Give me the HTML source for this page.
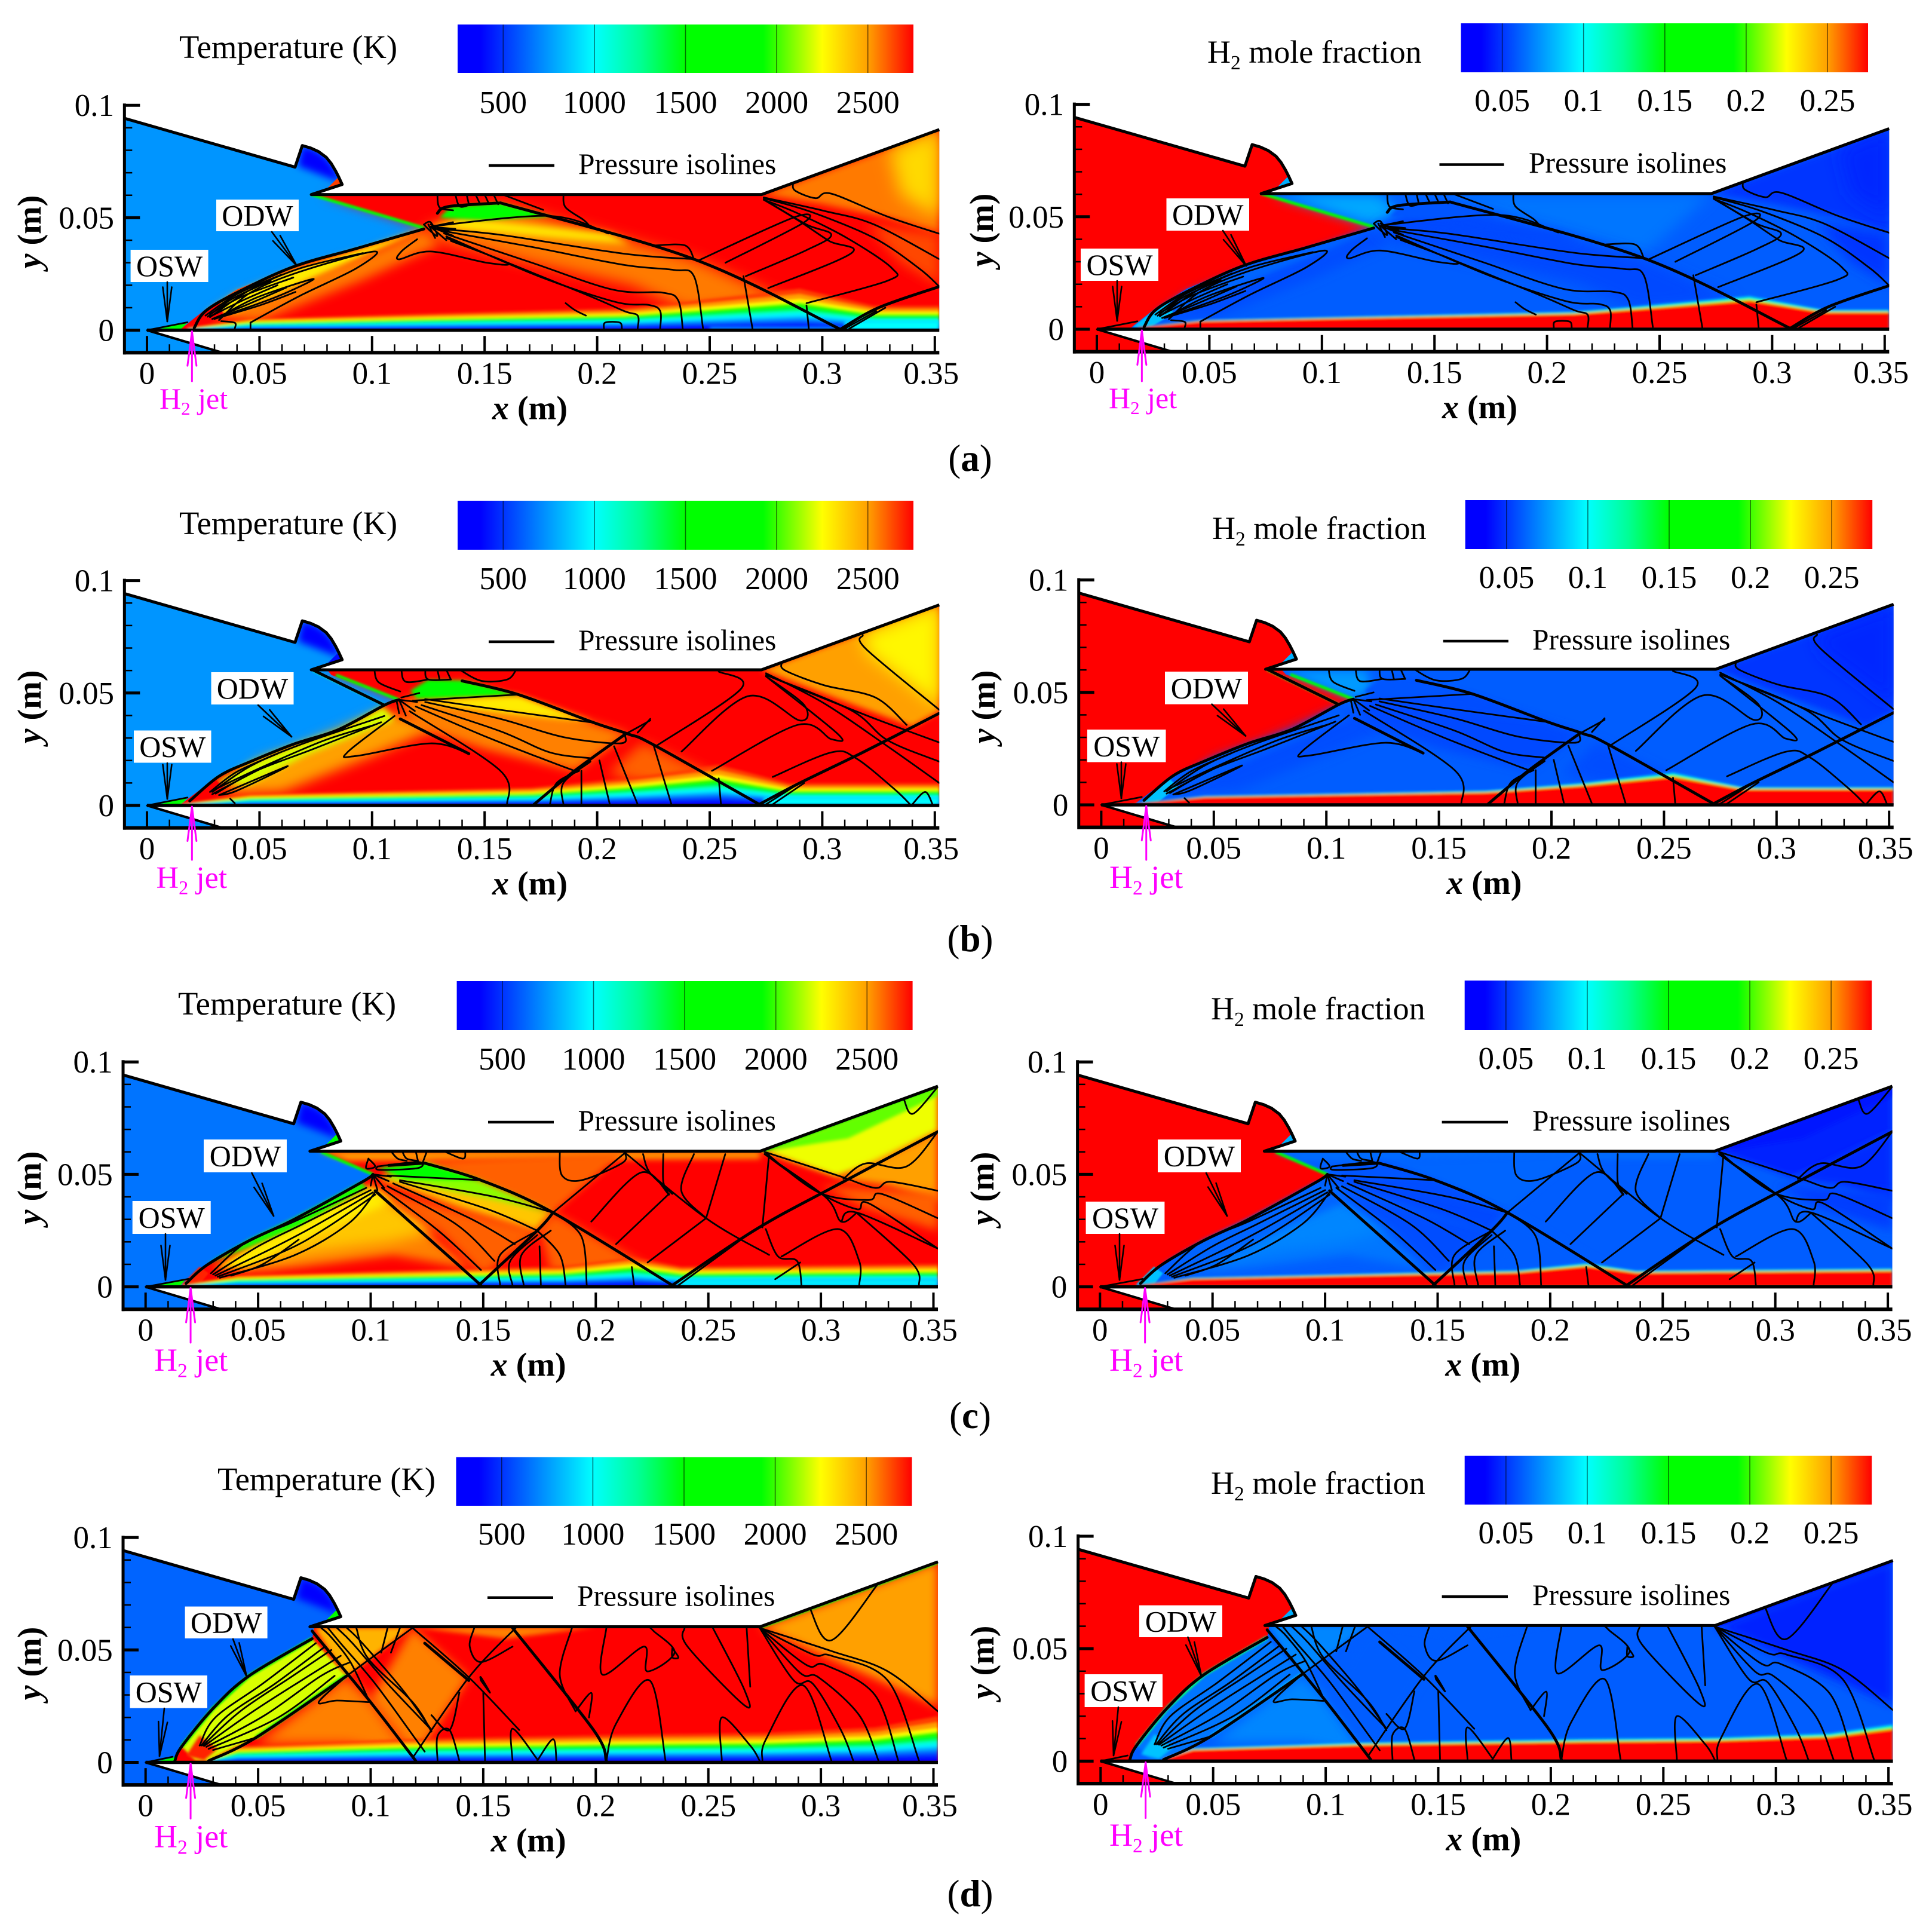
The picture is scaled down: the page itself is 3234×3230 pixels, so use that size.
<!DOCTYPE html>
<html lang="en">
<head>
<meta charset="utf-8">
<title>Temperature and H2 mole fraction contours</title>
<style>
html,body{margin:0;padding:0;background:#fff}
svg{display:block}
text{font-family:"Liberation Serif",serif;fill:#000}
</style>
</head>
<body>
<svg id="figure" xmlns="http://www.w3.org/2000/svg" width="3234" height="3230" viewBox="0 0 3234 3230"><defs id="defs"></defs></svg>
<script>
/* ---------- chart values (geometry in millimetres, flat x,y pairs) ---------- */
const xMajorTicks=[0,0.05,0.1,0.15,0.2,0.25,0.3,0.35];
const xMajorLabels=['0','0.05','0.1','0.15','0.2','0.25','0.3','0.35'];
const xMinorTicks=[0.01,0.02,0.03,0.04,0.06,0.07,0.08,0.09,0.11,0.12,0.13,0.14,0.16,0.17,0.18,0.19,0.21,0.22,0.23,0.24,0.26,0.27,0.28,0.29,0.31,0.32,0.33,0.34];
const yMajorTicks=[0,0.05,0.1];
const yMajorLabels=['0','0.05','0.1'];
const yMinorTicks=[0.01,0.02,0.03,0.04,0.06,0.07,0.08,0.09];
const tempBarTicks=[500,1000,1500,2000,2500];
const tempBarLabels=['500','1000','1500','2000','2500'];
const h2BarTicks=[0.05,0.1,0.15,0.2,0.25];
const h2BarLabels=['0.05','0.1','0.15','0.2','0.25'];
const tempRange=[250,2750];
const h2Range=[0.0246,0.275];
const mapFracs=[0,0.05,0.3,0.4,0.5,0.67,0.8,0.9,1];
const mapColors=[[0,0,255],[0,0,255],[0,255,255],[0,255,150],[0,255,0],[0,255,0],[255,255,0],[255,160,0],[255,0,0]];

const domainOutline=[-10,94.2,65.8,72.5,69,82.1,72.7,81,76.2,79.4,79.6,76.9,81.8,74.2,83.8,70.8,85.2,68.1,86.7,64.8,73,60.3,273,60.3,352,89.2,352,0,0,0,33.5,-10,-10,-10];
const cowlDark=[69,82.1,67,73,80,68,85.2,66,85.2,68.1,83.8,70.8,81.8,74.2,79.6,76.9,76.2,79.4,72.7,81];
const cowlTip=[80,63,86.7,64.8,85.5,68.5];
const cowlTipT=[2650,400,1600,1700];
const oswWedge=[3,0,18,3.5,15,0];

const blFracsT=[1.5,1.3,1.12,1,0.9,0.8,0.7,0.6,0.5,0.4,0.3,0.2,0.1];
const blTemps=[2650,2500,2250,2000,1700,1350,1100,950,800,650,520,400,300];
const blFracsH=[1.22,1.16,1.12,1.08,1.05,1.02];
const blH2=[0.07,0.1,0.14,0.2,0.245,0.28];

/* case (a) */
const aBurned=[15,0,15,0.5,27,10,40,18,65,28.5,93,36.5,123,45.5,73,60.3,273,60.3,352,89.2,352,0];
const aRegions=[
{p:[78,60.3,125,60.3,135,52,123,46],t:2750,h:0.078,s:10},
{p:[125,60.3,273,60.3,243,33,160,56],t:2750,h:0.066,s:12},
{p:[27,6,40,15,65,25,100,35,123,45,130,38,95,22,50,4],t:2560,h:0.056,s:9},
{p:[26,8,40,17,65,27,93,35.5,123,45,105,37,70,22,40,8],t:2300,h:0.062,s:4},
{p:[16,1,26,9,32,13,34,7,24,1],t:2750,h:0.085,s:1},
{p:[123,45,157,56,243,31.6,285,13,240,9,215,20,170,30,130,40],t:2560,h:0.055,s:12},
{p:[125,46,140,50,205,43,215,38,170,42],t:2300,h:0.055,s:6},
{p:[130,50,135,55,157,56.5,180,50.5,150,49],t:1650,h:0.058,s:3},
{p:[273,60.3,352,89.2,352,43,329,50,300,56],t:2560,h:0.05,s:6},
{p:[330,80,352,89.2,352,50,335,60],t:2350,h:0.047,s:15},
{p:[320,47,352,43,352,20,335,30],t:2640,h:0.05,s:10},
{l:[73,60.3,123,45.5],t:1500,h:0.15,w:5}
];
const aWall=[{p:[310,0,352,0,352,4,310,4],t:1000},{p:[250,0,310,0,308,1.5,250,1.5],t:760}];
const aBlX=[18,46,129,212,240,290,323,352];
const aBlY=[0.7,3.4,5,6.5,8.5,12.3,7.2,7.2];
const aShocks=[
[157,56.6,243,31.6,308,0.4],
[308,0.4,325,10,352,19.4],
[21,1,26,8.5,40,16.7,65,28.2,93,36.3,123,45],
[129,52,134,55,157,56.6]
];
const aIso=[
[0,0,18,3.5],
[129,46.5,179,50.8,205,43],
[129,45,157,42.4,212,34,243,31.6],
[130,44.4,171,37,212,29,234,26.8,243,24,247,1],
[132,43,171,30,207,18,229,16.7,236,13.3,238,0.7],
[133,41.7,174,24,208,12.6,223,11.2,228,8.5,228,0.7],
[133,41,193,16.7,212,8.5,218,6.5,218,0.7],
[120,40.4,113,35,112,31.5,126,35,151,30,160,30,135,39.7],
[123,47,126,44,129,42,126,48,123,47],
[126,46,136,48],[126,46,137,45],[126,46,136,42],[126,46,133,40],[125,47,128,41],[126,47,134,44],
[186,12,190,9,195,6.5,190,9,186,12],
[265,24,269,0.7],
[293,11,294,0.7],
[129,60.3,130,54.6,136,53.3],
[137,60.3,139,55,144,56],
[142,60.3,143,56],[146,60.3,148,56],[150,60.3,152,56],[154,60.3,156,56],
[158,60.3,176,53.5],
[185,60.3,186,54.6,194,49,197,45.8],
[226,37.7,239,37.7,243,31.6],
[287,65.4,288,62,297,58.7,304,60.7,329,50.5,352,42.9],
[274,59,301,53,323,47,352,31.6],
[274,58.7,295,52.6,323,41,343,27.5,352,19.4],
[274,58,289,52,311,41,331,27.5,329,22,293,12],
[274,58,289,49,303,39.7,313,34.3,276,18.7],
[276,57,293,47,304,42.4,293,35.6,266,24],
[245,31,287,50,292,48,257,30],
[32,4.5,46,16.7,68,26,101,35,93,27.5,68,15.3,46,3.4],
[28,5.8,46,18,68,27.5,96,34.3],
[32,5.8,49,14.6,74,22.8,57,14.6,32,5.8],
[26,6.5,40,16,60,24.8],
[28,7.2,43,15.3,65,23.4],
[27,6,38,14,55,22],[28,6,42,13,58,20],[29,5,46,12,62,19],[30,5,50,11,66,17],
[203,0.7,203.6,3.4,210,3.4,211,0.7],
[33,4,39,3.3,39,0.7],
[46,0.7,46,3.4],
[310,0.7,324,8.5],
[312,0.7,328,10]
];

/* case (b) */
const bBurned=[15,0,15,0.5,32,13.4,46,20,65,27.6,85,34,105.5,44.6,112,47.3,82,58,80,60.3,273,60.3,352,89.2,352,0];
const bRegions=[
{p:[80,60,118,60,120,50,112,47],t:2750,h:0.075,s:8},
{p:[32,5,50,20,70,27,105,42,130,35,100,22,60,6],t:2500,h:0.056,s:10},
{p:[30,10,46,19,65,26.5,85,33,105,44,110,38,70,22,45,9],t:2200,h:0.06,s:5},
{p:[18,1,30,12,34,8,25,1],t:2750,h:0.085,s:1},
{p:[112,46,140,55,214,31.7,190,15.4,150,25,120,35],t:2550,h:0.055,s:8},
{p:[120,46,165,49,198,37,160,41],t:2300,h:0.056,s:5},
{p:[117,51,125,56,140,55.5,165,49.3,120,47.5],t:1600,h:0.058,s:3},
{p:[220,28,270,5,225,9,205,14],t:2600,h:0.056,s:10},
{p:[273,60.3,352,89.2,352,42,340,35,300,50],t:2500,h:0.05,s:5},
{p:[318,76,352,89.2,352,44,335,57,320,68],t:2270,h:0.047,s:14},
{l:[84,58,112,47],t:1500,h:0.15,w:5},
{l:[73.6,60,105.5,44.6],t:1200,h:0.2,w:3}
];
const bWall=[{p:[274,0,352,0,352,3.5,274,3.5],t:1000}];
const bBlX=[15,46,129,171,212,254,285,352];
const bBlY=[0.5,3.3,4.6,5.3,8,12,6.6,6.6];
const bShocks=[
[140,55.4,165,49.3,198,37,214,31.7,225,27,272,0.5],
[172,0.5,190,15.4,212.5,31.7],
[272,0.5,290,10,318,23.6,352,41],
[112.5,38.5,143,23],
[19,2,32,13,46,19.5,65,27.2,85,33.7,105.5,44.6,112,47],
[73.6,60.3,105.5,44.6]
];
const bIso=[
[0,0,18,3.5],
[212.5,31.7,223.6,37.8],
[118,46.6,165,49.3],
[123.6,47.3,157,42.5,197,37],
[123.6,46,157,38.5,185,30.4,210,27.6,212.5,31],
[122,44.6,157,33,179,23.6,197,21],
[119.4,44,151,30.4,179,19.5,190,15.4],
[116.7,41.9,157,15.4,160,0.5],
[110,39.8,89,23.6,93,22,126,27.6,143,23],
[112,47,120,46],[112,47,119,42],[112,47,115,40],[113,48,121,50],[111,46,112,41],
[179,0.5,182,10,192,15.4],
[185,0.5,185,10,197,19.5],
[193,0.5,193,15.4],
[201,20,205.6,0.5],
[207.5,26.3,218,0.5],
[225,27,233,0.5],
[254,12,255,0.5],
[101,60.3,103,54.7,112.5,50.7],
[113,60.3,115,55,125,56],
[123.6,60.3,125,56,135,56],
[129,60.3,130,56],[133,60.3,135,56],
[139,60.3,148.6,55.4,160,56,164,60.3],
[226,26.3,264,52,254,59.5],
[237.5,24,267,48.6,290,37.8,292,44.6,275,57.4],
[251,15.4,289,35.8,304,29.5,307,31.7,275,57.4],
[218,32.4,223.6,38.5],
[275,58.8,301,45.3,329,26.3,352,10],
[275,58,312.5,42.5,329,29,352,19.5],
[275,58,293,50.7,323.6,38.5,352,28],
[318,75.7,319.4,69.6,352,42.5],
[282,63.5,283.6,60,301,53.4,323.6,48,337.5,35.8],
[278,12.7,304,23.6,315,21,332,7.3,339,0.5],
[340,0.5,345.7,6,349,0.5],
[275,0.5,290,10],[278,0.5,292,10],
[29,6,46,17.5,68,27,105.5,39.8],
[30.5,5.3,48.6,15.4,73.6,25,104,37],
[32,4.6,62.5,17.5,40,6.6,32,4.6],
[30.5,7.3,51,17,79,29,101,35.8],
[28,6,40,15,58,23],[29,5,44,13,60,21],
[37,3,39,1]
];

/* case (c) */
const cBurned=[16,0,16,0.7,27,10,46,21,66,30.5,96,46.7,101,50,77,60.3,273,60.3,352,89.2,352,0];
const cRegions=[
{p:[77,60.3,273,60.3,273,57,90,56],t:2500,h:0.064,s:5},
{p:[125,56,213,60,181,33],t:2600,h:0.062,s:6},
{p:[40,7,102,42,145,8,110,14,70,9],t:2550,h:0.066,s:8},
{p:[46,8,102,43,130,25,110,20,70,15],t:2400,h:0.07,s:12},
{p:[30,8,46,18,66,28,100,45,110,38,80,25,45,8],t:2300,h:0.062,s:6},
{p:[27,10,46,21,66,30.5,96,46.7,98,44,68,27,42,16],t:1950,h:0.062,s:3},
{p:[16,1,24,9,28,6,24,1],t:2700,h:0.085,s:1},
{p:[103,43,175,25,150,5,130,25],t:2600,h:0.056,s:8},
{p:[103,48,124,55,181,33,174,25,140,35],t:2400,h:0.055,s:6},
{p:[105,49,124,55,149,47,181,33,150,40],t:2100,h:0.056,s:5},
{p:[103,53,124,55,149,47.4,115,48],t:1600,h:0.058,s:3},
{p:[175,26,181,33,234,3,180,7],t:2600,h:0.06,s:8},
{p:[274,60.3,352,89.2,352,69,325,55,307,49],t:2230,h:0.045,s:5},
{p:[276,60.3,352,89.2,352,85,312,66],t:2050,h:0.042,s:3},
{p:[307,48,352,69,352,38,330,45],t:2500,h:0.048,s:6},
{p:[300,45,352,42,352,25,320,35],t:2600,h:0.052,s:8},
{l:[274,60.3,352,89.2],t:1700,h:0.04,w:5},
{l:[78,60,101,50],t:1500,h:0.15,w:5}
];
const cWall=[{p:[236,0,352,0,352,3.5,236,3.5],t:950}];
const cBlX=[16,41,146,185,216,238,352];
const cBlY=[0.5,3.4,5.4,6.1,8.8,6,6.8];
const cShocks=[
[124,55,149,47.4,181,33,234,0.7],
[102,42.7,149,0.7],
[148,0.7,174,25,181,33],
[234,0.7,271.4,25.7,307.5,45.4,352,69],
[18,1.5,27,9.5,46,20.5,66,30,96,46.5,101,50],
[108,54,124,55]
];
const cIso=[
[0,0,19,3.5],
[181,33,213,59.6],
[213,59.6,249,30.5,277,14.2],
[107.5,49.5,149,47.4],
[113,47.4,155,40,181,33],
[113,46.7,152,34.5,174,25],
[110,46,144,30.5,164,19],
[107.5,44.7,138,27.8,155,11.5],
[105,44,130,25,149,7.5],
[103,53.5,121,55.5,121,52.8,104,52,103,53.5],
[99,57,102,53.5,98,52.7,99,57],
[101,50,108,47],[101,50,106,44],[101,50,103,43],[101,50,100,45],[101,50,109,49],
[109,60.3,112,57,116,56],
[114,60.3,116,57,121,56],
[120,60.3,121,56],
[125,60.3,123,55],
[132.5,60.3,141,57,142,60.3],
[184,60.3,185,49.5,193.6,47.4,211.7,55,213,59.6],
[221,59,224,50.8,234,41.3],
[230,59,230,46.7,232.5,41],
[243.6,59,238,42.7,249,30.5],
[257.5,59,249,30.5],
[277,59,274,26.4],
[198,29,220,50.8,232.5,41],
[209,19,232.5,41.3],
[223,10.8,249,30.5],
[157.5,0.7,157.5,14.2,174,25],
[163,0.7,162,11.5,174,23],
[168,0.7,167,14.2,180,25],
[175.6,0.7,175,18],
[186.6,0.7,184,14.2,174,25],
[196,0.7,193.6,22.4,181,33],
[217,0.7,216,8.8],
[236.7,0.7,271,25.7],
[279.7,3.4,290.8,10.8],
[275.5,25.7,281,13.5,289.4,11.5,291.4,0.7],
[282.5,13.5,307.5,25.7,317,11.5,317,0.7],
[315.8,33,341,10,343.6,0.7],
[309,29,316,33,352,17],
[310,48,320,54.9,338,53.5,352,69],
[275,60,307.5,49.5,324,44,331,46.7,352,42.7],
[275,60,299,42,321,38.6,327,41.3,352,30.5],
[275,59,299,42,316,34.5,321.5,37,352,17],
[275,59,301.9,40,309,29,316,33],
[337,83,341,77,352,89],
[29,6,45,20,66,29,98,44],
[30,5.5,50,18,70,28,100,43],
[31,5,56,17,75,27,101,42],
[32,4.5,62,16,80,26,102,41],
[33,4,66,14,90,28,102,42],
[38,5,52,10,68,21]
];

/* case (d) */
const dBurned=[12,0,16,7,30,24,46,38.5,60,47,74,55,75,60.3,273,60.3,352,89.2,352,0];
const dRegions=[
{p:[75,60,118,60,89,38],t:2450,h:0.07,s:4},
{p:[49,8,89,38,100,28,120,1,90,8],t:2550,h:0.07,s:10},
{p:[100,28,118.6,59.8,143.6,37.8,120,2],t:2550,h:0.06,s:8},
{p:[22,1,16,7,30,24,46,38.5,74,55,89,38.5,49,11,28,0.7],t:2200,h:0.066,s:2},
{p:[18,3,24,12,32,6,26,1],t:2700,h:0.085,s:2},
{p:[273,60,352,89.2,352,25,300,48],t:2500,h:0.045,s:8},
{p:[118,60.3,200,60.3,160,55],t:2550,h:0.06,s:4},
{l:[16,7,30,24,46,38.5,74,55],t:1600,h:0.13,w:6},
{l:[49,11,89,38.5],t:1700,h:0.08,w:6},
{l:[273,60.3,352,89.2],t:1800,h:0.04,w:7}
];
const dWall=[];
const dBlX=[28,41,116,213,274,324,352];
const dBlY=[1,4.8,6.9,8.2,8.7,10.3,13.7];
const dShocks=[
[74,58.4,99,28,120,0.7],
[89.4,38.5,49,11,28,0.7],
[163,59.8,199,14.4,204.7,0.7],
[13,0.7,16,7,30,24,46,38.5,74,55],
[124,53,143.6,36.4]
];
const dIso=[
[0,0,12,2.5],
[118.6,59.8,89.4,38.5],
[118.6,59.8,143.6,37.8,166,14.4],
[118.6,2,143.6,37.8,164.4,59.8],
[24,7.5,31,20,52,35,75.6,53],
[24.7,7.5,36.7,21,57.5,35,79.7,51.5],
[25.5,7.5,42,22.7,64.4,37.8,82.5,50],
[26,7.3,47.8,22.7,71.4,37.8,86.7,47.4],
[27,6.9,53,21,78,38.5,91,44.6],
[28,6,59,20,84,38.5],
[30,5.5,49,11],
[78,59.8,82.5,55.6,91,44.6,99,28],
[81,59.8,86.7,52.9,102,35,120,10.3,124,4.8],
[85,59.8,92,52.9,107.5,35,127,14.4],
[89.4,59.8,96.4,52.9,114.4,32,127,14.4],
[93.6,59.8,99,46,118.6,26.8,127,13.7],
[107.5,59.8,104.7,48.8],
[113,59.8,109,48.8],
[89.4,38.5,76.9,26.8,85,27.5,99,26.8],
[127,21,135,14.4,139.4,31],
[149,36.4,153,31,149,37.8,149,36.4],
[146,59.8,144,51.5,149,44.6,163,51.5],
[189.4,59.8,184,39,191,22.7],
[191,22.7,198,30.9,197,20],
[204.7,59.8,203,39,221.4,51.5,222.8,40.5,235,48.8,225.7,58.4,224,60],
[234,50.8,236.7,46.7,234,46.7,234,50.8],
[239.4,59.8,240.8,51.5,266,25.4,266,32.3,252,59.8],
[267,59.8,268.6,33.7],
[204.7,0.7,208.9,17,224,36.4,231,0.7],
[256,0.7,256,20,268.6,7.5,272.8,0.7],
[274,0.7,275.6,10.3,292,34.3,304.7,0.7],
[174,0.7,181,10.3,182.5,0.7],
[163,0.7,163,15,174,1.4],
[129.7,0.7,129.7,11.7,135,14.4,139.4,0.7],
[150.8,0.7,150,31],
[272.8,59.8,304.7,49.5,329.7,40.5,352,22.7],
[272.8,59.8,296.4,48,304.7,47.4,329.7,36.4,343.6,0.7],
[272.8,59.8,293.6,43.3,301.9,43.3,324,30,334.4,0.7],
[272.8,59.8,290.8,39.8,299,37.8,317,21,325.6,0.7],
[272.8,59.8,288,36.4,296.4,35,308.9,14.4,314.4,0.7],
[295,68.7,304.7,54.3,325.6,79.7]
];

const caseA={id:'a',freeT:740,tip:0,burned:aBurned,regions:aRegions,wall:aWall,blX:aBlX,blY:aBlY,shocks:aShocks,iso:aIso};
const caseB={id:'b',freeT:740,tip:1,burned:bBurned,regions:bRegions,wall:bWall,blX:bBlX,blY:bBlY,shocks:bShocks,iso:bIso};
const caseC={id:'c',freeT:660,tip:2,burned:cBurned,regions:cRegions,wall:cWall,blX:cBlX,blY:cBlY,shocks:cShocks,iso:cIso};
const caseD={id:'d',freeT:620,tip:3,burned:dBurned,regions:dRegions,wall:dWall,blX:dBlX,blY:dBlY,shocks:dShocks,iso:dIso};

/* ---------- page layout (pixels) ---------- */
const layoutPanels=[
{cs:caseA,k:'T',x0:246,y0:552.6,bar:[766,41,81],barBase:189,title:[300,97],leg:[818,928,277,968,291],odw:[362,334,138,53],osw:[218.6,418,130,54],odwA:[455,388,497,445],oswA:[280,472,280,538],jetEnd:638,jetL:[267,684,50],yLab:[68,388]},
{cs:caseA,k:'H',x0:1836,y0:551,bar:[2445.5,39,82],barBase:186,title:[2021,105],leg:[2409.5,2517.6,275.5,2559,289],odw:[1952.5,332,138.5,54],osw:[1809,416,130,54],odwA:[2047,386,2086,445],oswA:[1870,470,1870,537],jetEnd:638,jetL:[1856,683,50],yLab:[1662,385]},
{cs:caseB,k:'T',x0:246,y0:1348,bar:[766,838,82],barBase:986,title:[300,894],leg:[818,928,1074,968,1088],odw:[353.5,1125,138,54],osw:[224,1222.5,129.5,54],odwA:[432,1180,488,1233],oswA:[280,1277,280,1337],jetEnd:1439,jetL:[261.5,1486,52],yLab:[68,1183]},
{cs:caseB,k:'H',x0:1843.4,y0:1347,bar:[2452.7,837,82],barBase:984,title:[2029,902],leg:[2415.7,2525,1073,2565,1087],odw:[1950,1124,139,54.6],osw:[1820,1221,131.5,54.5],odwA:[2028.6,1178.6,2085,1231.6],oswA:[1877,1275.5,1877,1336],jetEnd:1439,jetL:[1857,1486,54],yLab:[1665,1183]},
{cs:caseC,k:'T',x0:243.7,y0:2153.6,bar:[764.6,1642,82],barBase:1790,title:[298,1698],leg:[817,927,1878,967.5,1892],odw:[341,1907,139,55],osw:[221.7,2010,131,55],odwA:[421.5,1963,458,2035],oswA:[277,2065,277,2142],jetEnd:2247,jetL:[258,2294,54],yLab:[68,1988]},
{cs:caseC,k:'H',x0:1841.3,y0:2153.6,bar:[2451.7,1641,83],barBase:1789,title:[2027,1706],leg:[2413.6,2524,1878,2565,1892],odw:[1938,1907,139,55],osw:[1817.6,2011,131.8,54],odwA:[2019,1963,2054,2035],oswA:[1874,2065,1874,2142],jetEnd:2247,jetL:[1857,2294,54],yLab:[1663,1989]},
{cs:caseD,k:'T',x0:243.7,y0:2949.5,bar:[763.5,2438.6,81.4],barBase:2585,title:[364,2494],leg:[816,926,2673.7,966,2687.6],odw:[309.6,2688.6,138,53.4],osw:[217.5,2804,129.5,54.6],odwA:[390,2743,413,2806],oswA:[275,2859,267,2939],jetEnd:3043.5,jetL:[258,3091.6,54],yLab:[68,2784]},
{cs:caseD,k:'H',x0:1842.3,y0:2947.4,bar:[2451.7,2436.5,81.5],barBase:2583,title:[2027,2500],leg:[2413.6,2524,2672,2565,2686],odw:[1907,2686.6,139,53.4],osw:[1815.6,2802,130.4,55],odwA:[1988.5,2740,2011,2805],oswA:[1872,2857,1864,2938],jetEnd:3042.5,jetL:[1857,3089,54],yLab:[1663,2782]}
];
const captionLabels=['a','b','c','d'];
const captionBaselines=[788,1592,2390,3190];

/* ---------- helpers ---------- */
const NS='http://www.w3.org/2000/svg';
const svg=document.getElementById('figure');
const defs=document.getElementById('defs');
let uid=0;
const softDone={};

function mk(parent,tag,attrs,name){
  const el=document.createElementNS(NS,tag);
  for(const a in attrs){el.setAttribute(a,attrs[a]);}
  
  
  parent.appendChild(el);
  return el;
}
function softFilter(s){
  const key=String(s).replace('.','_');
  if(!softDone[key]){
    const f=document.createElementNS(NS,'filter');
    f.setAttribute('id','soft'+key);
    f.setAttribute('x','-60%');f.setAttribute('y','-60%');
    f.setAttribute('width','220%');f.setAttribute('height','220%');
    const b=document.createElementNS(NS,'feGaussianBlur');
    b.setAttribute('stdDeviation',s);
    f.appendChild(b);defs.appendChild(f);
    softDone[key]=true;
  }
  return 'url(#soft'+key+')';
}
function colorAt(fr){
  fr=Math.max(0,Math.min(1,fr));
  for(let i=1;i<mapFracs.length;i++){
    if(fr<=mapFracs[i]){
      const t=(fr-mapFracs[i-1])/(mapFracs[i]-mapFracs[i-1]||1);
      const a=mapColors[i-1],b=mapColors[i];
      return 'rgb('+Math.round(a[0]+(b[0]-a[0])*t)+','+Math.round(a[1]+(b[1]-a[1])*t)+','+Math.round(a[2]+(b[2]-a[2])*t)+')';
    }
  }
  return 'rgb(255,0,0)';
}
function colorT(t){return colorAt((t-tempRange[0])/(tempRange[1]-tempRange[0]));}
function colorH(h){return colorAt((h-h2Range[0])/(h2Range[1]-h2Range[0]));}

function buildGradient(){
  const g=document.createElementNS(NS,'linearGradient');
  g.setAttribute('id','barGrad');
  mapFracs.forEach(function(fr,i){
    const s=document.createElementNS(NS,'stop');
    s.setAttribute('offset',fr);
    s.setAttribute('stop-color','rgb('+mapColors[i].join(',')+')');
    g.appendChild(s);
  });
  defs.appendChild(g);
}
buildGradient();

function text(parent,x,y,str,size,name,extra){
  const attrs={x:x,y:y,'font-size':size};
  if(extra){for(const k in extra){attrs[k]=extra[k];}}
  const t=mk(parent,'text',attrs,name);
  t.textContent=str;
  return t;
}
function h2Text(parent,x,y,rest,size,fill,name){
  const t=mk(parent,'text',{x:x,y:y,'font-size':size,fill:fill,style:'fill:'+fill},name);
  const a=document.createElementNS(NS,'tspan');a.textContent='H';t.appendChild(a);
  const b=document.createElementNS(NS,'tspan');b.setAttribute('font-size',size*0.62);b.setAttribute('dy',size*0.2);b.textContent='2';t.appendChild(b);
  const c=document.createElementNS(NS,'tspan');c.setAttribute('dy',-size*0.2);c.textContent=rest;t.appendChild(c);
  return t;
}
function arrow(parent,x1,y1,x2,y2,color,w,name){
  const g=mk(parent,'g',{stroke:color,'stroke-width':w,fill:'none','stroke-linecap':'round'},name);
  const ang=Math.atan2(y2-y1,x2-x1),len=58,sp=0.13;
  mk(g,'line',{x1:x1,y1:y1,x2:x2,y2:y2},name+'-shaft');
  mk(g,'line',{x1:x2,y1:y2,x2:x2-len*Math.cos(ang-sp),y2:y2-len*Math.sin(ang-sp)},name+'-barb');
  mk(g,'line',{x1:x2,y1:y2,x2:x2-len*Math.cos(ang+sp),y2:y2-len*Math.sin(ang+sp)},name+'-barb');
  return g;
}

/* ---------- one panel ---------- */
function drawPanel(P){
  const cs=P.cs,isT=P.k==='T';
  const SX=3768,SY=3764;
  const xAxis=function(m){return P.x0+m*SX;};
  const yAxis=function(m){return P.y0-m*SY;};
  const pts=function(a){let s='';for(let i=0;i<a.length;i+=2){s+=xAxis(a[i]/1000).toFixed(1)+','+yAxis(a[i+1]/1000).toFixed(1)+' ';}return s;};
  const curve=function(a){
    const q=[];
    for(let i=0;i<a.length;i+=2){q.push([xAxis(a[i]/1000),yAxis(a[i+1]/1000)]);}
    let d='M'+q[0][0].toFixed(1)+' '+q[0][1].toFixed(1);
    for(let i=0;i<q.length-1;i++){
      const p0=q[i-1]||q[i],p1=q[i],p2=q[i+1],p3=q[i+2]||q[i+1];
      d+=' C'+(p1[0]+(p2[0]-p0[0])/6).toFixed(1)+' '+(p1[1]+(p2[1]-p0[1])/6).toFixed(1)+' '+(p2[0]-(p3[0]-p1[0])/6).toFixed(1)+' '+(p2[1]-(p3[1]-p1[1])/6).toFixed(1)+' '+p2[0].toFixed(1)+' '+p2[1].toFixed(1);
    }
    return d;
  };
  const col=function(t,h){return isT?colorT(t):colorH(h);};
  const root=mk(svg,'g',{},'panel-'+cs.id+(isT?'-temperature':'-h2'));

  /* colour field */
  const clipId='clip'+(uid++);
  const cp=document.createElementNS(NS,'clipPath');cp.setAttribute('id',clipId);
  const cpp=document.createElementNS(NS,'polygon');cpp.setAttribute('points',pts(domainOutline));cp.appendChild(cpp);defs.appendChild(cp);
  const field=mk(root,'g',{'clip-path':'url(#'+clipId+')'},'contour-field');
  mk(field,'polygon',{points:pts(domainOutline),fill:isT?colorT(cs.freeT):colorH(0.28)},'freestream-region');
  if(isT){
    mk(field,'polygon',{points:pts(cowlDark),fill:colorT(320),filter:softFilter(6)},'cowl-expansion-region');
    mk(field,'polygon',{points:pts(oswWedge),fill:colorT(1800)},'oblique-shock-wedge');
  }
  mk(field,'polygon',{points:pts(cowlTip),fill:isT?colorT(cowlTipT[cs.tip]):colorH(0.08)},'cowl-tip-region');
  mk(field,'polygon',{points:pts(cs.burned),fill:isT?colorT(2750):colorH(0.06)},'burned-region');
  cs.regions.forEach(function(r){
    if(r.l){
      mk(field,'polyline',{points:pts(r.l),fill:'none',stroke:col(r.t,r.h),'stroke-width':r.w,filter:softFilter(1.5)},'shear-band');
    }else{
      mk(field,'polygon',{points:pts(r.p),fill:col(r.t,r.h),filter:softFilter(r.s)},'flow-region');
    }
  });
  const blGroup=mk(field,'g',{filter:softFilter(2)},'boundary-layer');
  const fr=isT?blFracsT:blFracsH;
  const vals=isT?blTemps:blH2;
  fr.forEach(function(f,i){
    let arr=[];
    cs.blX.forEach(function(x,j){arr.push(x,cs.blY[j]*f);});
    arr.push(352,0,cs.blX[0],0);
    mk(blGroup,'polygon',{points:pts(arr),fill:isT?colorT(vals[i]):colorH(vals[i])},'boundary-layer-band');
  });
  if(isT){
    cs.wall.forEach(function(w){
      mk(field,'polygon',{points:pts(w.p),fill:colorT(w.t),filter:softFilter(3)},'near-wall-region');
    });
  }

  /* isolines and shocks */
  const lines=mk(root,'g',{'clip-path':'url(#'+clipId+')',fill:'none',stroke:'#000','stroke-linejoin':'round','stroke-linecap':'round'},'pressure-isolines');
  cs.iso.forEach(function(a){mk(lines,'path',{d:curve(a),'stroke-width':2.8},'pressure-isoline');});
  cs.shocks.forEach(function(a){mk(lines,'path',{d:curve(a),'stroke-width':4.8},'shock-line');});

  /* outline */
  const outline=mk(root,'g',{fill:'none',stroke:'#000','stroke-linejoin':'round'},'geometry-outline');
  mk(outline,'polyline',{points:pts(domainOutline.slice(0,26)),'stroke-width':5},'wall-outline');
  mk(outline,'polyline',{points:pts([0,0,352,0]),'stroke-width':5.5},'bottom-wall');
  mk(outline,'polyline',{points:pts([0,0,33.5,-10]),'stroke-width':4},'wedge-wall');

  /* axes */
  const ax=mk(root,'g',{stroke:'#000',fill:'none'},'axes');
  mk(ax,'line',{x1:xAxis(-0.01),y1:yAxis(0.1)-3,x2:xAxis(-0.01),y2:yAxis(-0.01)+3,'stroke-width':5},'y-axis-line');
  mk(ax,'line',{x1:xAxis(-0.01)-2,y1:yAxis(-0.01),x2:xAxis(0.352),y2:yAxis(-0.01),'stroke-width':6},'x-axis-line');
  xMajorTicks.forEach(function(v){mk(ax,'line',{x1:xAxis(v),y1:yAxis(-0.01),x2:xAxis(v),y2:yAxis(-0.01)-28,'stroke-width':4},'x-major-tick');});
  xMinorTicks.forEach(function(v){mk(ax,'line',{x1:xAxis(v),y1:yAxis(-0.01),x2:xAxis(v),y2:yAxis(-0.01)-14,'stroke-width':2.5},'x-minor-tick');});
  yMajorTicks.forEach(function(v){mk(ax,'line',{x1:xAxis(-0.01),y1:yAxis(v),x2:xAxis(-0.01)+26,y2:yAxis(v),'stroke-width':5},'y-major-tick');});
  yMinorTicks.forEach(function(v){mk(ax,'line',{x1:xAxis(-0.01),y1:yAxis(v),x2:xAxis(-0.01)+13,y2:yAxis(v),'stroke-width':2.5},'y-minor-tick');});
  xMajorTicks.forEach(function(v,i){
    text(root,xAxis(v)-(v===0.35?6:0),P.y0+90,xMajorLabels[i],53,'x-tick-label',{'text-anchor':'middle'});
  });
  yMajorTicks.forEach(function(v,i){
    text(root,P.x0-55,yAxis(v)+18,yMajorLabels[i],53,'y-tick-label',{'text-anchor':'end'});
  });

  /* axis titles */
  const xt=mk(root,'text',{x:P.x0+641,y:P.y0+149,'font-size':56,'font-weight':'bold','text-anchor':'middle'},'x-axis-title');
  const xi=document.createElementNS(NS,'tspan');xi.setAttribute('font-style','italic');xi.textContent='x';xt.appendChild(xi);
  const xr=document.createElementNS(NS,'tspan');xr.textContent=' (m)';xt.appendChild(xr);
  const yt=mk(root,'text',{transform:'translate('+P.yLab[0]+','+P.yLab[1]+') rotate(-90)','font-size':56,'font-weight':'bold','text-anchor':'middle'},'y-axis-title');
  const yi=document.createElementNS(NS,'tspan');yi.setAttribute('font-style','italic');yi.textContent='y';yt.appendChild(yi);
  const yr=document.createElementNS(NS,'tspan');yr.textContent=' (m)';yt.appendChild(yr);

  /* colour bar */
  const bw=isT?763:681.5;
  const lo=isT?tempRange[0]:h2Range[0],hi=isT?tempRange[1]:h2Range[1];
  const barX=function(v){return P.bar[0]+(v-lo)/(hi-lo)*bw;};
  const bar=mk(root,'g',{},'colorbar');
  mk(bar,'rect',{x:P.bar[0],y:P.bar[1],width:bw,height:P.bar[2],fill:'url(#barGrad)'},'colorbar-ramp');
  const ticks=isT?tempBarTicks:h2BarTicks;
  const labs=isT?tempBarLabels:h2BarLabels;
  ticks.forEach(function(v,i){
    mk(bar,'line',{x1:barX(v),y1:P.bar[1],x2:barX(v),y2:P.bar[1]+P.bar[2],stroke:'rgba(0,0,0,0.55)','stroke-width':1.6},'colorbar-tick');
    text(bar,barX(v),P.barBase,labs[i],53,'colorbar-tick-label',{'text-anchor':'middle'});
  });
  if(isT){text(root,P.title[0],P.title[1],'Temperature (K)',54.7,'colorbar-title');}
  else{h2Text(root,P.title[0],P.title[1],' mole fraction',54,'#000','colorbar-title');}

  /* legend */
  mk(root,'line',{x1:P.leg[0],y1:P.leg[2],x2:P.leg[1],y2:P.leg[2],stroke:'#000','stroke-width':4.5},'legend-line');
  text(root,P.leg[3],P.leg[4],'Pressure isolines',49.5,'legend-label');

  /* annotations */
  [['odw','ODW'],['osw','OSW']].forEach(function(o){
    const b=P[o[0]];
    const g=mk(root,'g',{},o[0]+'-callout');
    mk(g,'rect',{x:b[0],y:b[1],width:b[2],height:b[3],fill:'#fff'},o[0]+'-label-box');
    text(g,b[0]+b[2]/2,b[1]+b[3]/2+17,o[1],50,o[0]+'-label',{'text-anchor':'middle'});
  });
  arrow(root,P.odwA[0],P.odwA[1],P.odwA[2],P.odwA[3],'#000',2.6,'odw-arrow');
  arrow(root,P.oswA[0],P.oswA[1],P.oswA[2],P.oswA[3],'#000',2.6,'osw-arrow');
  arrow(root,xAxis(0.02),P.jetEnd,xAxis(0.02),P.y0+2,'#ff00ff',3,'h2-jet-arrow');
  h2Text(root,P.jetL[0],P.jetL[1],' jet',P.jetL[2],'#ff00ff','h2-jet-label');
}
layoutPanels.forEach(drawPanel);

/* ---------- captions ---------- */
captionLabels.forEach(function(c,i){
  const t=mk(svg,'text',{x:1624,y:captionBaselines[i],'font-size':63,'text-anchor':'middle'},'caption-'+c);
  const a=document.createElementNS(NS,'tspan');a.textContent='(';t.appendChild(a);
  const b=document.createElementNS(NS,'tspan');b.setAttribute('font-weight','bold');b.textContent=c;t.appendChild(b);
  const d=document.createElementNS(NS,'tspan');d.textContent=')';t.appendChild(d);
});
</script>
</body>
</html>
